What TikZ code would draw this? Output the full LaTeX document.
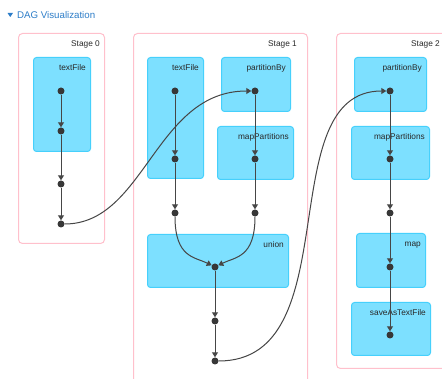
\documentclass[tikz,border=0pt]{standalone}
\usepackage{fontspec}
\setmainfont{Liberation Sans}
\usetikzlibrary{arrows.meta}
\definecolor{stagepink}{RGB}{255,192,204}
\definecolor{opfill}{RGB}{125,224,255}
\definecolor{opdraw}{RGB}{70,208,252}
\definecolor{dotcol}{RGB}{55,55,55}
\definecolor{edgecol}{RGB}{70,70,70}
\definecolor{titleblue}{RGB}{45,125,200}
\definecolor{txt}{RGB}{40,40,40}
\tikzset{
  stagebox/.style={draw=stagepink, line width=1pt, rounded corners=4pt, fill=white, anchor=north west, inner sep=0pt},
  opnode/.style={draw=opdraw, fill=opfill, line width=1pt, rounded corners=3pt, anchor=north west, inner sep=0pt},
  lbl/.style={inner sep=0pt, text=txt, font=\fontsize{8.3}{10}\selectfont, anchor=base east},
  dotnode/.style={circle, fill=dotcol, inner sep=0pt, minimum size=7pt},
  edge/.style={draw=edgecol, line width=1pt, -{Triangle[width=6pt,length=5pt]}},
}
\begin{document}
\begin{tikzpicture}[x=1pt,y=-1pt]
\clip (0,0) rectangle (442,379);
\fill[white] (0,0) rectangle (442,379);
% title
\fill[titleblue] (7.5,13) -- (13,13) -- (10.25,17) -- cycle;
\node[inner sep=0pt, anchor=base west, text=titleblue, font=\fontsize{9.7}{12}\selectfont] (title) at (17,18.5) {DAG Visualization};
% stages
\node[stagebox, minimum width=86pt, minimum height=210pt] (st0) at (18,33) {};
\node[stagebox, minimum width=174pt, minimum height=400pt] (st1) at (133,33) {};
\node[stagebox, minimum width=120pt, minimum height=335pt] (st2) at (336,33) {};
\node[lbl] (st0l) at (100,47) {Stage 0};
\node[lbl] (st1l) at (297,47) {Stage 1};
\node[lbl] (st2l) at (440,47) {Stage 2};
% operation boxes
\node[opnode, minimum width=57pt, minimum height=94pt] (t0) at (33,57) {};
\node[opnode, minimum width=56pt, minimum height=121pt] (t1) at (147,57) {};
\node[opnode, minimum width=69pt, minimum height=54pt] (p1) at (221,57) {};
\node[opnode, minimum width=76pt, minimum height=53pt] (m1) at (217,126) {};
\node[opnode, minimum width=141pt, minimum height=53pt] (u1) at (147,234) {};
\node[opnode, minimum width=72pt, minimum height=54pt] (p2) at (354,57) {};
\node[opnode, minimum width=78pt, minimum height=53pt] (m2) at (351,126) {};
\node[opnode, minimum width=69pt, minimum height=54pt] (mp2) at (356,233) {};
\node[opnode, minimum width=79pt, minimum height=53pt] (sv2) at (351,302) {};
\node[lbl] at ([xshift=-5pt,yshift=-14pt]t0.north east) {textFile};
\node[lbl] at ([xshift=-5pt,yshift=-14pt]t1.north east) {textFile};
\node[lbl] at ([xshift=-5pt,yshift=-14pt]p1.north east) {partitionBy};
\node[lbl] at ([xshift=-5pt,yshift=-14pt]m1.north east) {mapPartitions};
\node[lbl] at ([xshift=-5pt,yshift=-14pt]u1.north east) {union};
\node[lbl] at ([xshift=-5pt,yshift=-14pt]p2.north east) {partitionBy};
\node[lbl] at ([xshift=-5pt,yshift=-14pt]m2.north east) {mapPartitions};
\node[lbl] at ([xshift=-5pt,yshift=-14pt]mp2.north east) {map};
\node[lbl] at ([xshift=-5pt,yshift=-14pt]sv2.north east) {saveAsTextFile};
% dots
\node[dotnode] (a0) at (61,91) {};
\node[dotnode] (a1) at (61,131) {};
\node[dotnode] (a2) at (61,184) {};
\node[dotnode] (a3) at (61,224) {};
\node[dotnode] (b0) at (175,91) {};
\node[dotnode] (b1) at (175,159) {};
\node[dotnode] (b2) at (175,213) {};
\node[dotnode] (c0) at (255,91) {};
\node[dotnode] (c1) at (255,159) {};
\node[dotnode] (c2) at (255,213) {};
\node[dotnode] (u0) at (215,267) {};
\node[dotnode] (u2) at (215,321) {};
\node[dotnode] (u3) at (215,361) {};
\node[dotnode] (d0) at (390,91) {};
\node[dotnode] (d1) at (390,159) {};
\node[dotnode] (d2) at (390,213) {};
\node[dotnode] (d3) at (390,267) {};
\node[dotnode] (d4) at (390,335) {};
% edges
\draw[edge] (a0) -- (a1);
\draw[edge] (a1) -- (a2);
\draw[edge] (a2) -- (a3);
\draw[edge] (a3) .. controls (145,224) and (155,91) .. (c0);
\draw[edge] (b0) -- (b1);
\draw[edge] (b1) -- (b2);
\draw[edge] (c0) -- (c1);
\draw[edge] (c1) -- (c2);
\draw[edge] (b2) .. controls +(0,45) and +(-20,-10) .. (u0);
\draw[edge] (c2) .. controls +(0,45) and +(20,-10) .. (u0);
\draw[edge] (u0) -- (u2);
\draw[edge] (u2) -- (u3);
\draw[edge] (u3) .. controls (350,361) and (270,91) .. (d0);
\draw[edge] (d0) -- (d1);
\draw[edge] (d1) -- (d2);
\draw[edge] (d2) -- (d3);
\draw[edge] (d3) -- (d4);
\end{tikzpicture}
\end{document}
